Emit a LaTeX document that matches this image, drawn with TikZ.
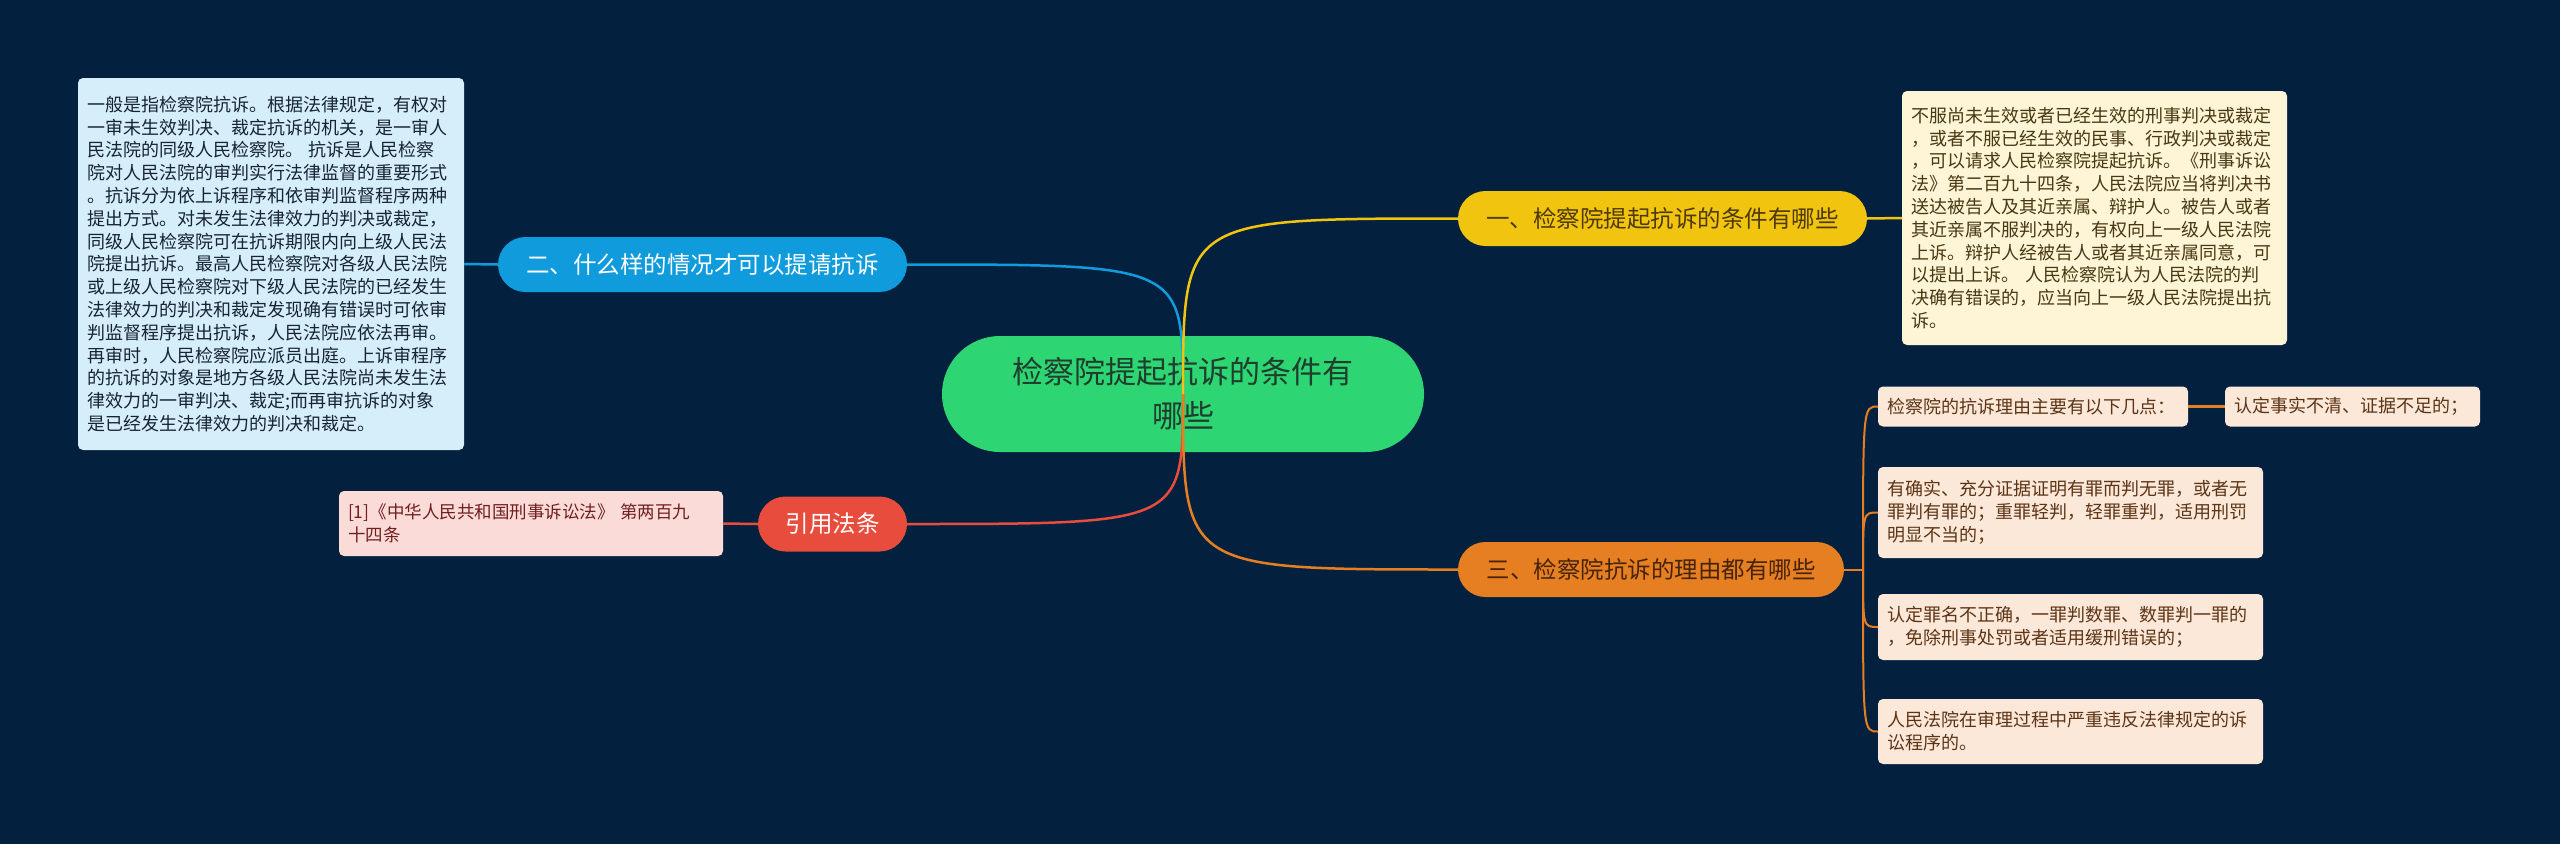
\documentclass[tikz,border=0pt]{standalone}
\usepackage{fontspec}
\setmainfont{Noto Sans CJK SC}
\usetikzlibrary{calc}
\definecolor{bgnavy}{RGB}{3,33,62}
\definecolor{rootgreen}{RGB}{46,213,115}
\definecolor{roottext}{RGB}{32,62,46}
\definecolor{oneyellow}{RGB}{241,196,15}
\definecolor{onetext}{RGB}{78,58,10}
\definecolor{twoblue}{RGB}{15,155,220}
\definecolor{threeorange}{RGB}{230,126,34}
\definecolor{threetext}{RGB}{70,36,10}
\definecolor{citered}{RGB}{231,76,60}
\definecolor{bluenote}{RGB}{214,238,250}
\definecolor{bluenotetext}{RGB}{22,36,52}
\definecolor{creamnote}{RGB}{253,245,213}
\definecolor{creamnotetext}{RGB}{72,56,20}
\definecolor{peachnote}{RGB}{252,232,216}
\definecolor{peachnotetext}{RGB}{92,52,22}
\definecolor{pinknote}{RGB}{250,219,216}
\definecolor{pinknotetext}{RGB}{112,30,30}

\begin{document}
\begin{tikzpicture}[x=1pt,y=-1pt]
\tikzset{pill/.style={rounded corners=27.5pt, minimum height=55pt, inner sep=0pt, font=\fontsize{23.5}{28}\selectfont}}
\tikzset{note/.style={rounded corners=5pt, align=left, inner xsep=9pt, inner ysep=0pt}}
\tikzset{bignote/.style={note, font=\fontsize{18}{22.8}\selectfont}}
\tikzset{smallnote/.style={note, fill=peachnote, text=peachnotetext, font=\fontsize{18}{23}\selectfont}}
\tikzset{link/.style={line width=2.5pt}}
\fill[bgnavy] (0,0) rectangle (2560,844);
\useasboundingbox (0,0) rectangle (2560,844);

\node[fill=rootgreen, text=roottext, rounded corners=58pt, minimum width=482pt, minimum height=116pt, align=center, font=\fontsize{31}{44}\selectfont] (root) at (1183,394) {检察院提起抗诉的条件有\\哪些};

\node[pill, fill=oneyellow, text=onetext, minimum width=409pt] (one) at (1662.5,218.5) {一、检察院提起抗诉的条件有哪些};
\node[pill, fill=twoblue, text=white, minimum width=409pt] (two) at (702.5,264.5) {二、什么样的情况才可以提请抗诉};
\node[pill, fill=threeorange, text=threetext, minimum width=386pt] (three) at (1651,569.5) {三、检察院抗诉的理由都有哪些};
\node[pill, fill=citered, text=white, minimum width=149pt] (cite) at (832.5,524) {引用法条};

\node[bignote, fill=creamnote, text=creamnotetext, text width=367pt, minimum height=254pt] (onetxt) at (2094.5,218) {不服尚未生效或者已经生效的刑事判决或裁定\\，或者不服已经生效的民事、行政判决或裁定\\，可以请求人民检察院提起抗诉。《刑事诉讼\\法》第二百九十四条，人民法院应当将判决书\\送达被告人及其近亲属、辩护人。被告人或者\\其近亲属不服判决的，有权向上一级人民法院\\上诉。辩护人经被告人或者其近亲属同意，可\\以提出上诉。 人民检察院认为人民法院的判\\决确有错误的，应当向上一级人民法院提出抗\\诉。};

\node[bignote, fill=bluenote, text=bluenotetext, text width=368pt, minimum height=372pt] (twotxt) at (271,264) {一般是指检察院抗诉。根据法律规定，有权对\\一审未生效判决、裁定抗诉的机关，是一审人\\民法院的同级人民检察院。 抗诉是人民检察\\院对人民法院的审判实行法律监督的重要形式\\。抗诉分为依上诉程序和依审判监督程序两种\\提出方式。对未发生法律效力的判决或裁定，\\同级人民检察院可在抗诉期限内向上级人民法\\院提出抗诉。最高人民检察院对各级人民法院\\或上级人民检察院对下级人民法院的已经发生\\法律效力的判决和裁定发现确有错误时可依审\\判监督程序提出抗诉，人民法院应依法再审。\\再审时，人民检察院应派员出庭。上诉审程序\\的抗诉的对象是地方各级人民法院尚未发生法\\律效力的一审判决、裁定;而再审抗诉的对象\\是已经发生法律效力的判决和裁定。};

\node[note, fill=pinknote, text=pinknotetext, font=\fontsize{17.5}{23}\selectfont, text width=366pt, minimum height=65pt] (citetxt) at (531,523.5) {[1]《中华人民共和国刑事诉讼法》 第两百九\\十四条};

\node[smallnote, text width=292pt, minimum height=40pt] (ra) at (2033,406.5) {检察院的抗诉理由主要有以下几点：};
\node[smallnote, text width=237pt, minimum height=40pt] (ra2) at (2352.5,406.5) {认定事实不清、证据不足的；};
\node[smallnote, text width=367pt, minimum height=91pt] (rb) at (2070.5,512.5) {有确实、充分证据证明有罪而判无罪，或者无\\罪判有罪的；重罪轻判，轻罪重判，适用刑罚\\明显不当的；};
\node[smallnote, text width=367pt, minimum height=66pt] (rc) at (2070.5,627) {认定罪名不正确，一罪判数罪、数罪判一罪的\\，免除刑事处罚或者适用缓刑错误的；};
\node[smallnote, text width=367pt, minimum height=65pt] (rd) at (2070.5,731.5) {人民法院在审理过程中严重违反法律规定的诉\\讼程序的。};

\draw[link, twoblue] (two.east) .. controls (root |- two.east) .. (root.center);
\draw[link, citered] (cite.east) .. controls (root |- cite.east) .. (root.center);
\draw[link, oneyellow] (root.center) .. controls (root |- one.west) .. (one.west);
\draw[link, threeorange] (root.center) .. controls (root |- three.west) .. (three.west);

\draw[link, oneyellow] (one.east) -- (onetxt.west);
\draw[link, twoblue] (two.west) -- (twotxt.east);
\draw[link, citered] (cite.west) -- (citetxt.east);

\coordinate (jn) at (1863,569.5);
\draw[line width=2pt, threeorange] (three.east) -- (jn);
\foreach \n in {ra,rb,rc,rd}
  \draw[line width=2pt, threeorange] (jn) .. controls (jn |- \n.west) .. (\n.west);
\draw[line width=3pt, threeorange] (ra.east) -- (ra2.west);
\end{tikzpicture}
\end{document}
